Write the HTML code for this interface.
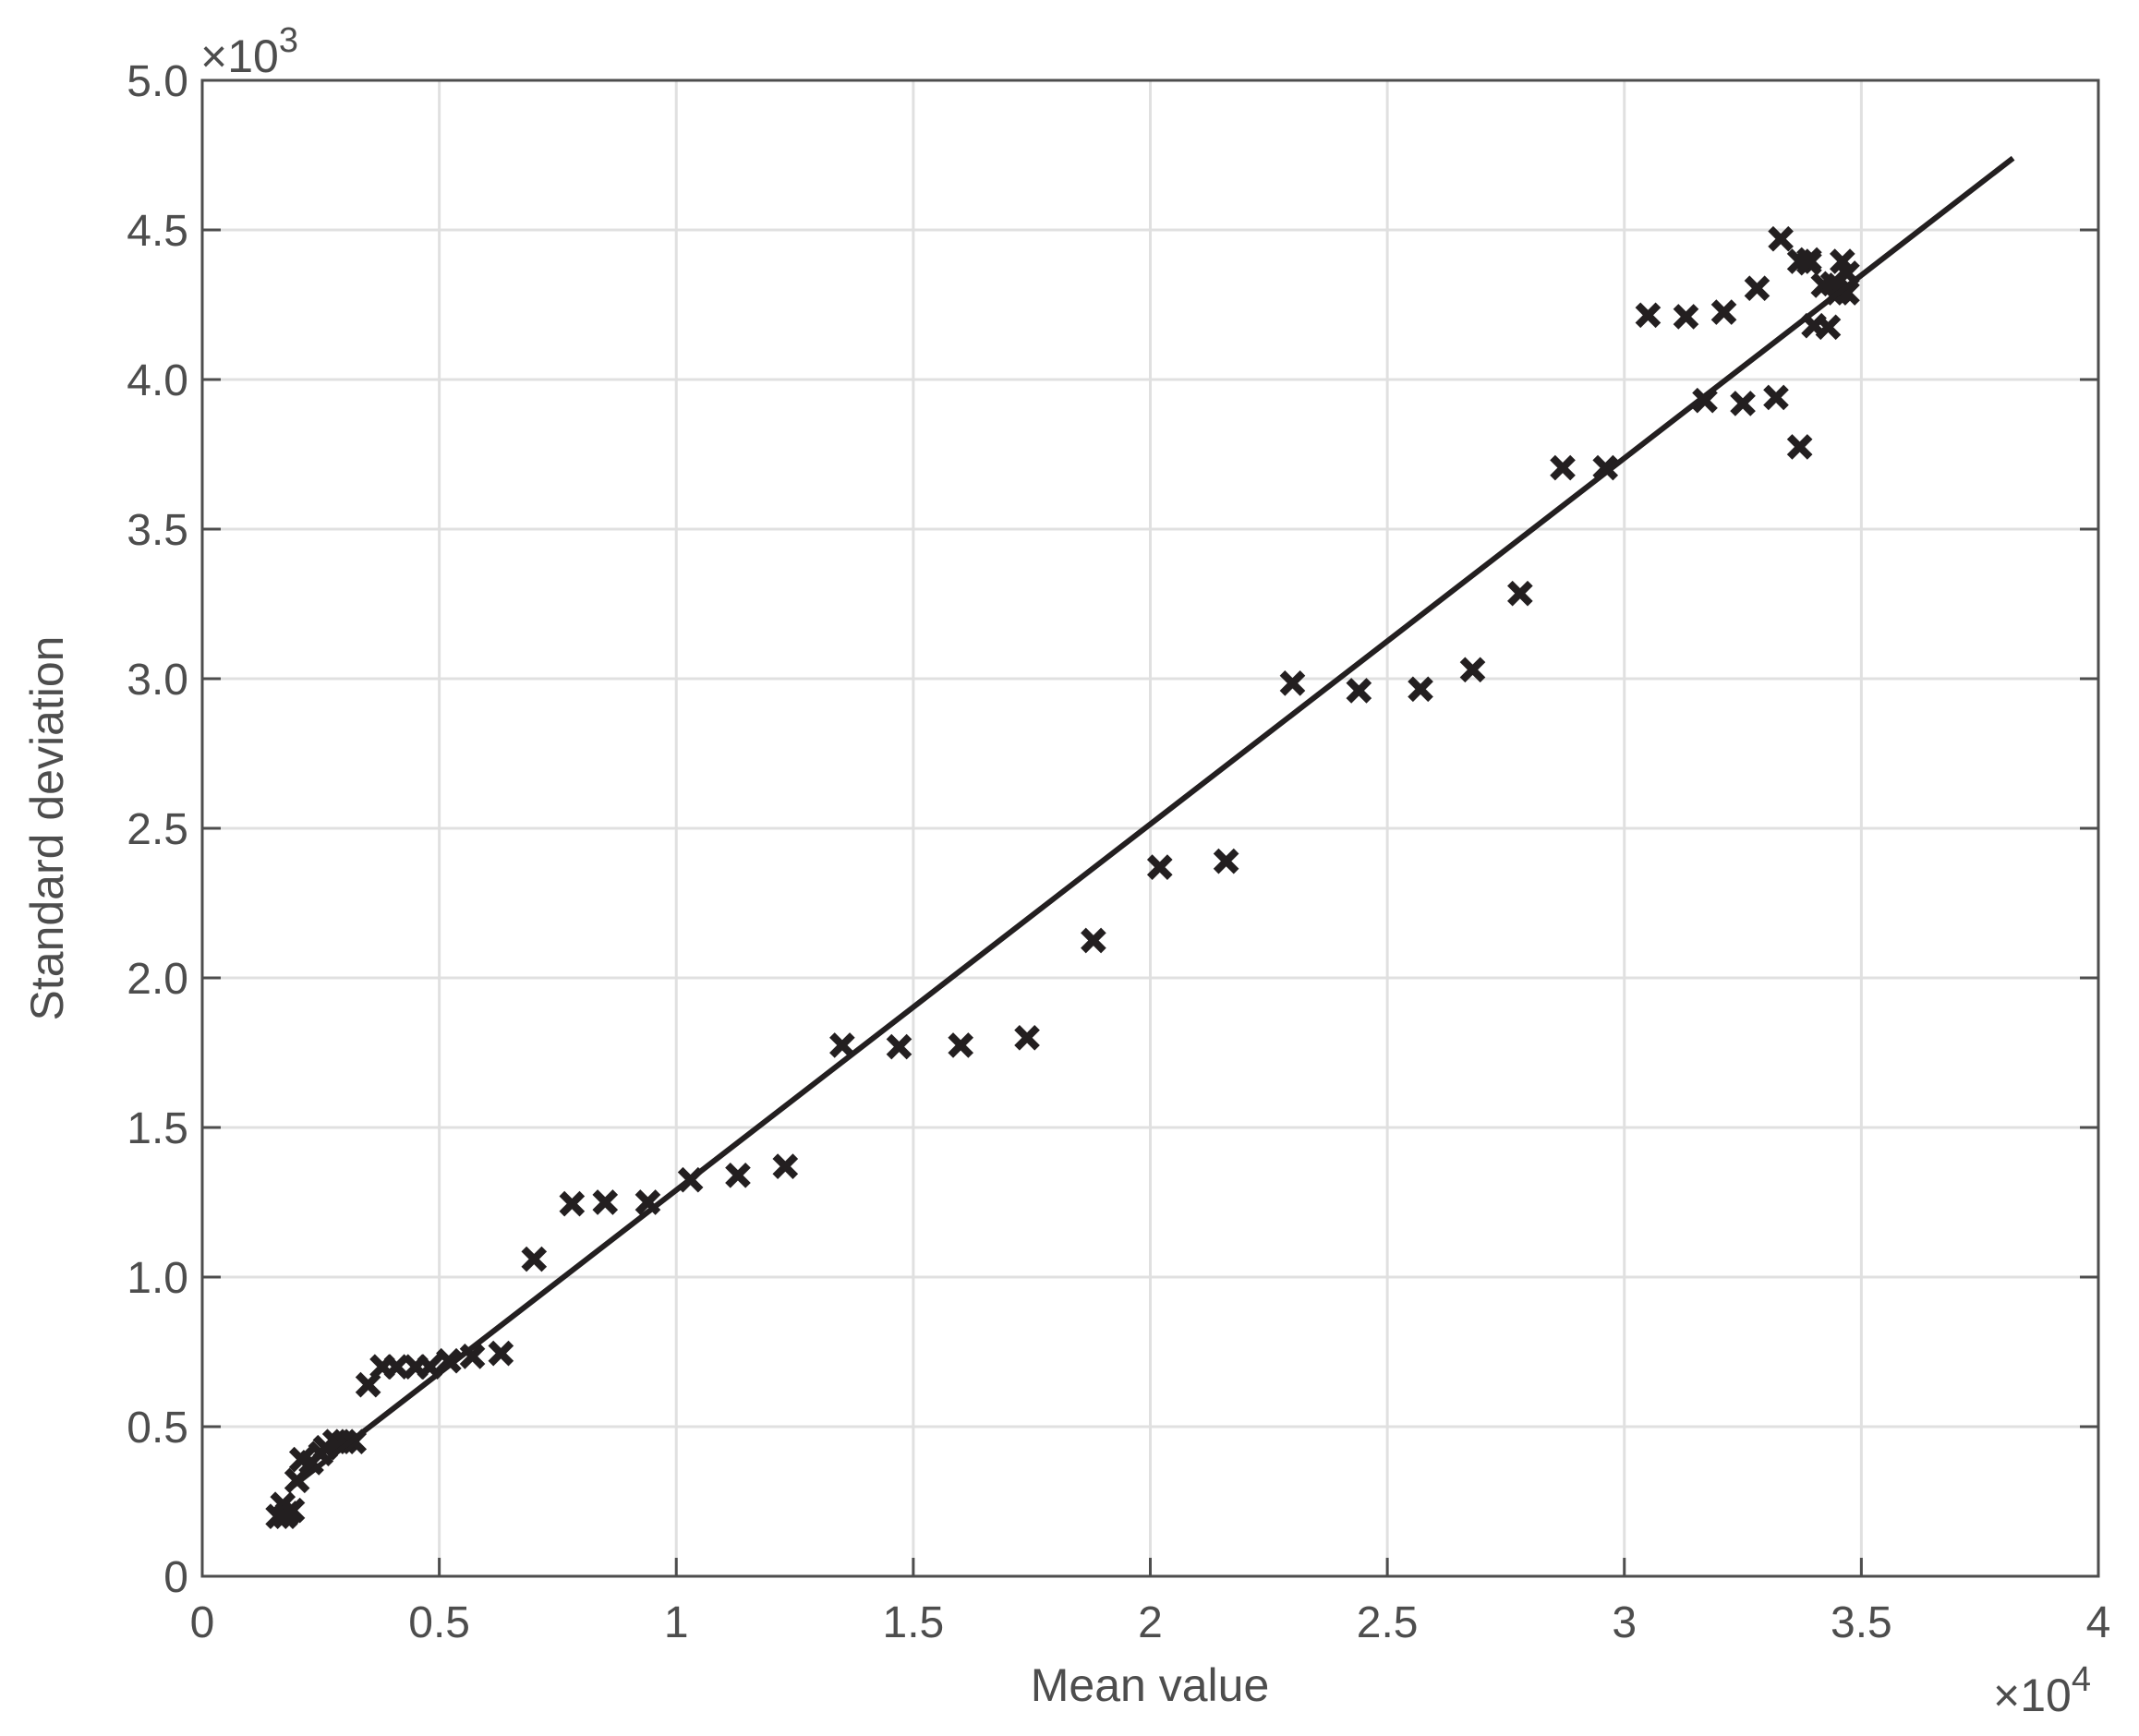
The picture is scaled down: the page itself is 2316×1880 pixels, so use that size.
<!DOCTYPE html>
<html><head><meta charset="utf-8"><style>
html,body{margin:0;padding:0;background:#fff;}
svg{display:block;font-family:"Liberation Sans",Arial,sans-serif;}
</style></head><body>
<svg id="chart" width="2316" height="1880" viewBox="0 0 2316 1880" xmlns="http://www.w3.org/2000/svg">
<rect width="2316" height="1880" fill="#fff"/>
<g id="grid"></g>
<g id="marks"></g>
<g id="fit"></g>
<rect x="219" y="87" width="2053" height="1620" fill="none" stroke="#4d4d4d" stroke-width="3"/>
<g id="ticks"></g>
<text x="1245" y="1842" font-size="50" fill="#4d4d4d" text-anchor="middle">Mean value</text>
<text transform="translate(68,897) rotate(-90)" font-size="50" fill="#4d4d4d" text-anchor="middle">Standard deviation</text>
<text x="217" y="78" font-size="50" fill="#4d4d4d">×10<tspan dy="-22" font-size="38">3</tspan></text>
<text x="2158" y="1853" font-size="50" fill="#4d4d4d">×10<tspan dy="-22" font-size="38">4</tspan></text>
</svg>
<script>
const xTicks=[0,0.5,1,1.5,2,2.5,3,3.5,4];
const xTickLabels=["0","0.5","1","1.5","2","2.5","3","3.5","4"];
const yTicks=[0,0.5,1,1.5,2,2.5,3,3.5,4,4.5,5];
const yTickLabels=["0","0.5","1.0","1.5","2.0","2.5","3.0","3.5","4.0","4.5","5.0"];
const meanValues=[1600,1700,1800,1900,1750,2000,2100,2300,2500,2600,2800,3000,3200,3500,3800,4100,4500,4800,5200,5700,6300,7000,7800,8500,9400,10300,11300,12300,13500,14700,16000,17400,18800,20200,21600,23000,24400,25700,26800,27800,28700,29600,30500,31300,31700,32100,32500,32800,33200,33300,33700,33700,33900,34000,34200,34300,34500,34600,34700,34700,34400,33900];
const stdValues=[200,240,210,220,200,320,390,380,410,430,450,450,450,640,700,700,700,700,720,735,745,1060,1245,1250,1250,1325,1340,1370,1775,1770,1775,1800,2125,2370,2390,2985,2960,2965,3030,3285,3705,3705,4215,4210,3930,4225,3920,4305,3940,4470,3775,4395,4390,4180,4315,4175,4290,4395,4290,4355,4320,4400];
const fitX=[1900,38200];
const fitY=[300,4740];

const NS="http://www.w3.org/2000/svg";
const L=219,R=2272,T=87,B=1707;
const xs=v=>L+(v/40000)*(R-L);
const ys=v=>B-(v/5000)*(B-T);
function mk(tag,attrs,parent){const e=document.createElementNS(NS,tag);for(const k in attrs)e.setAttribute(k,attrs[k]);parent.appendChild(e);return e;}
const grid=document.getElementById('grid'),ticks=document.getElementById('ticks'),marks=document.getElementById('marks'),fit=document.getElementById('fit');
xTicks.forEach((t,i)=>{const x=xs(t*10000);
 if(i>0&&i<xTicks.length-1){const g=mk('line',{x1:x,x2:x,y1:T,y2:B,stroke:'#e0e0e0','stroke-width':3},grid);
 
 
 const tk=mk('line',{x1:x,x2:x,y1:B,y2:B-20,stroke:'#4d4d4d','stroke-width':3},ticks);
 
 }
 const tx=mk('text',{x:x,y:1773,'font-size':48,fill:'#4d4d4d','text-anchor':'middle'},ticks);tx.textContent=xTickLabels[i];
 
 
});
yTicks.forEach((t,i)=>{const y=ys(t*1000);
 if(i>0&&i<yTicks.length-1){const g=mk('line',{x1:L,x2:R,y1:y,y2:y,stroke:'#e0e0e0','stroke-width':3},grid);
 
 
 const tk=mk('line',{x1:L,x2:L+20,y1:y,y2:y,stroke:'#4d4d4d','stroke-width':3},ticks);
 
 
 const tk2=mk('line',{x1:R,x2:R-20,y1:y,y2:y,stroke:'#4d4d4d','stroke-width':3},ticks);
 
 }
 const tx=mk('text',{x:204,y:y+17,'font-size':48,fill:'#4d4d4d','text-anchor':'end'},ticks);tx.textContent=yTickLabels[i];
 
 
});
meanValues.forEach((m,i)=>{const x=xs(m),y=ys(stdValues[i]),s=11;
 const p=mk('path',{d:`M${x-s} ${y-s}L${x+s} ${y+s}M${x-s} ${y+s}L${x+s} ${y-s}`,stroke:'#231f20','stroke-width':8,fill:'none'},marks);
 
 
});
const ln=mk('line',{x1:xs(fitX[0]),y1:ys(fitY[0]),x2:xs(fitX[1]),y2:ys(fitY[1]),stroke:'#231f20','stroke-width':6},fit);


</script>
</body></html>
